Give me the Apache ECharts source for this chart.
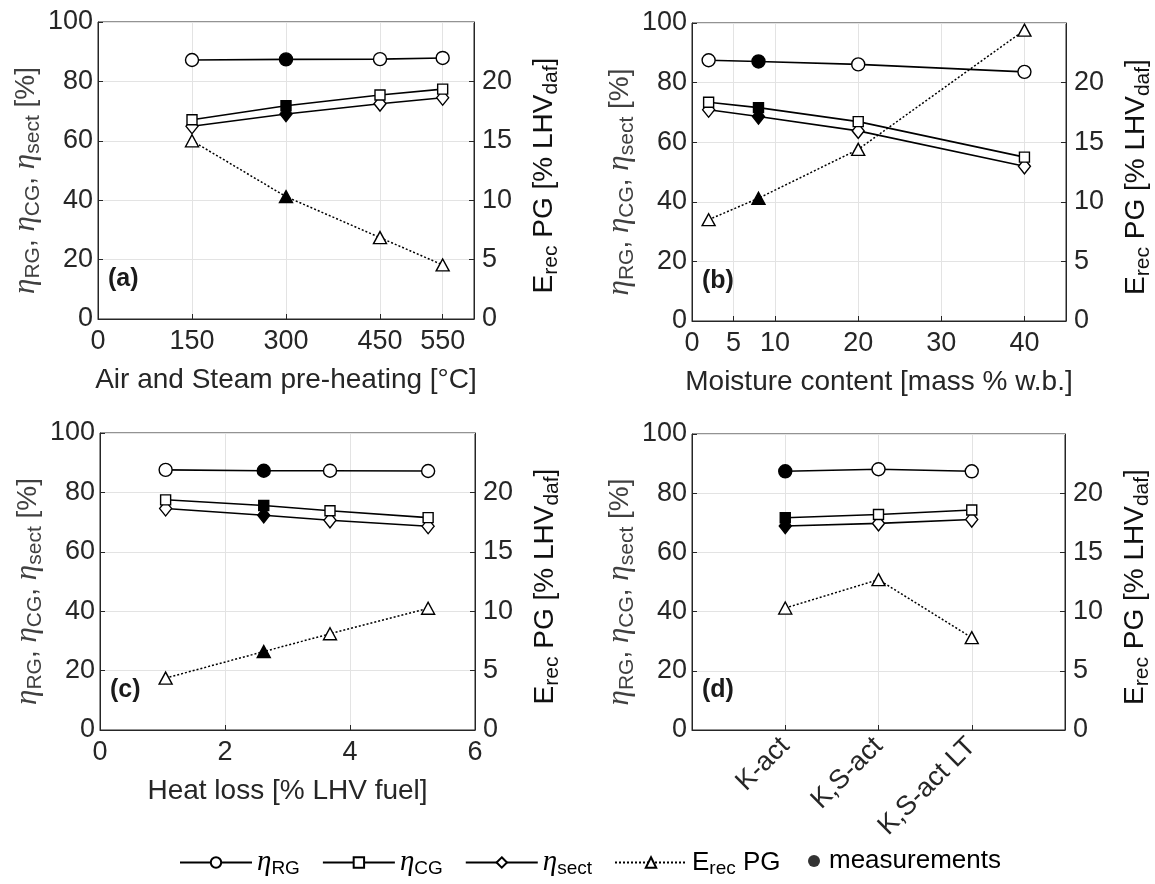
<!DOCTYPE html>
<html>
<head>
<meta charset="utf-8">
<script src="https://cdn.jsdelivr.net/npm/echarts@6/dist/echarts.min.js"></script>
<style>
  html, body { margin: 0; padding: 0; background: #fff; }
  #chart { width: 1155px; height: 884px; }
</style>
</head>
<body>
<div id="chart"></div>
<script>
// (a) Air and Steam pre-heating
const xA = [150, 300, 450, 550];
const rgA = [87.2, 87.4, 87.5, 87.9];
const cgA = [67.1, 71.8, 75.4, 77.4];
const sectA = [64.9, 69.0, 72.5, 74.5];
const eA = [15.0, 10.3, 6.85, 4.55];
const xTicksA = [0, 150, 300, 450, 550];

// (b) Moisture content
const xB = [2, 8, 20, 40];
const rgB = [87.5, 87.1, 86.1, 83.6];
const cgB = [73.4, 71.6, 66.9, 55.0];
const sectB = [70.9, 68.6, 63.8, 51.9];
const eB = [8.5, 10.3, 14.4, 24.4];
const xTicksB = [0, 5, 10, 20, 30, 40];

// (c) Heat loss
const xC = [1.05, 2.62, 3.68, 5.25];
const rgC = [87.6, 87.3, 87.3, 87.2];
const cgC = [77.5, 75.6, 73.8, 71.5];
const sectC = [74.6, 72.3, 70.6, 68.6];
const eC = [4.37, 6.6, 8.1, 10.25];

// (d) catalyst cases
const catD = ['K-act', 'K,S-act', 'K,S-act LT'];
const rgD = [87.4, 88.1, 87.4];
const cgD = [71.7, 72.8, 74.3];
const sectD = [68.9, 69.8, 71.1];
const eD = [10.3, 12.7, 7.8];

// index of the measured (filled) point per panel, eta series / E_rec series
const measEta = [1, 1, 1, 0];
const measE = [1, 1, 1, -1];

const FONT = 'Liberation Sans';
const AX = '#262626';
const FS = 27; // tick label size

const grids = [
  { left: 98, top: 22, width: 376, height: 297 },
  { left: 692, top: 23, width: 376, height: 298 },
  { left: 100, top: 433, width: 375, height: 297 },
  { left: 692, top: 434, width: 373, height: 296 }
];

// rich styles for axis names (eta in serif italic, subscripts smaller and lower)
const richName = {
  e: { fontFamily: 'Liberation Serif', fontStyle: 'italic', fontSize: 31, lineHeight: 36 },
  s: { fontFamily: FONT, fontSize: 21, lineHeight: 18, verticalAlign: 'bottom' },
  n: { fontFamily: FONT, fontSize: 28, lineHeight: 36 }
};
const richLegend = {
  e: { fontFamily: 'Liberation Serif', fontStyle: 'italic', fontSize: 29, lineHeight: 32 },
  s: { fontFamily: FONT, fontSize: 19, lineHeight: 16, verticalAlign: 'bottom' },
  n: { fontFamily: FONT, fontSize: 26, lineHeight: 32 }
};
const etaName = '{e|η}{s|RG}{n|, }{e|η}{s|CG}{n|, }{e|η}{s|sect}{n| [%]}';
const eName = '{n|E}{s|rec}{n| PG [% LHV}{s|daf}{n|]}';

function tickOpt(custom) {
  const t = { show: true, inside: true, length: 5, lineStyle: { color: AX } };
  if (custom) t.customValues = custom;
  return t;
}
function labelOpt(custom, extra) {
  const l = { color: AX, fontFamily: FONT, fontSize: FS, margin: 9 };
  if (custom) l.customValues = custom;
  return Object.assign(l, extra || {});
}

function xAxisBase(i, opt) {
  return Object.assign({
    type: 'value',
    gridIndex: i,
    nameLocation: 'middle',
    nameGap: 47,
    nameTextStyle: { fontFamily: FONT, fontSize: 28, color: AX },
    axisLine: { show: true, onZero: false, lineStyle: { color: AX, width: 1 } },
    axisTick: tickOpt(),
    splitLine: { show: true, lineStyle: { color: '#e3e3e3', width: 1 } },
    axisLabel: labelOpt()
  }, opt);
}

const catPos = catD.map((c, k) => k + 1);

const xAxes = [
  xAxisBase(0, {
    min: 0, max: 600, name: 'Air and Steam pre-heating [°C]',
    axisTick: tickOpt(xTicksA), axisLabel: labelOpt(xTicksA)
  }),
  xAxisBase(1, {
    min: 0, max: 45, name: 'Moisture content [mass % w.b.]',
    axisTick: tickOpt(xTicksB), axisLabel: labelOpt(xTicksB)
  }),
  xAxisBase(2, { min: 0, max: 6, interval: 2, name: 'Heat loss [% LHV fuel]' }),
  xAxisBase(3, {
    min: 0, max: catD.length + 1,
    axisTick: tickOpt(catPos),
    axisLabel: labelOpt(catPos, { rotate: 45, margin: 12, formatter: v => catD[v - 1] || '' })
  })
];

const yAxes = [];
grids.forEach((g, i) => {
  yAxes.push({
    type: 'value', gridIndex: i, position: 'left', min: 0, max: 100, interval: 20,
    name: etaName, nameLocation: 'middle', nameRotate: 90, nameGap: 50,
    nameTextStyle: { color: '#404040', rich: richName, padding: [0, 20, 0, 0] },
    axisLine: { show: true, lineStyle: { color: AX, width: 1 } },
    axisTick: tickOpt(),
    splitLine: { show: true, lineStyle: { color: '#e3e3e3', width: 1 } },
    axisLabel: labelOpt(null, { margin: 5 })
  });
  yAxes.push({
    type: 'value', gridIndex: i, position: 'right', min: 0, max: 25, interval: 5,
    name: eName, nameLocation: 'middle', nameRotate: 90, nameGap: 52,
    nameTextStyle: { color: '#111', rich: richName, padding: [0, 10, 0, 0] },
    axisLine: { show: true, lineStyle: { color: AX, width: 1 } },
    axisTick: tickOpt(),
    splitLine: { show: false },
    axisLabel: labelOpt(null, { margin: 8, showMaxLabel: false })
  });
});

function lineSeries(name, g, xs, ys, meas, symbol, size, right) {
  return {
    name: name, type: 'line',
    xAxisIndex: g, yAxisIndex: right ? 2 * g + 1 : 2 * g,
    symbol: symbol, symbolSize: size,
    lineStyle: { color: '#000', width: right ? 1.5 : 1.6, type: right ? [2, 2] : 'solid' },
    itemStyle: { color: '#fff', borderColor: '#000', borderWidth: 1.4 },
    emphasis: { disabled: true },
    data: xs.map((x, k) => k === meas
      ? { value: [x, ys[k]], itemStyle: { color: '#000' } }
      : [x, ys[k]])
  };
}

const panels = [
  [xA, rgA, cgA, sectA, eA],
  [xB, rgB, cgB, sectB, eB],
  [xC, rgC, cgC, sectC, eC],
  [catPos, rgD, cgD, sectD, eD]
];

const series = [];
panels.forEach((p, g) => {
  series.push(lineSeries('E', g, p[0], p[4], measE[g], 'triangle', [13, 12], true));
  series.push(lineSeries('sect', g, p[0], p[3], measEta[g], 'diamond', [12, 15], false));
  series.push(lineSeries('CG', g, p[0], p[2], measEta[g], 'rect', 10, false));
  series.push(lineSeries('RG', g, p[0], p[1], measEta[g], 'circle', 13, false));
});
series.push({
  name: 'measurements', type: 'scatter', xAxisIndex: 0, yAxisIndex: 0,
  symbol: 'circle', symbolSize: 10, itemStyle: { color: '#000' }, data: []
});

const legendText = {
  RG: '{e|η}{s|RG}',
  CG: '{e|η}{s|CG}',
  sect: '{e|η}{s|sect}',
  E: '{n|E}{s|rec}{n| PG}'
};

const chart = echarts.init(document.getElementById('chart'));
chart.setOption({
  animation: false,
  backgroundColor: '#fff',
  title: ['(a)', '(b)', '(c)', '(d)'].map((t, i) => ({
    text: t, padding: 0,
    left: grids[i].left + 10,
    top: grids[i].top + grids[i].height - 52,
    textStyle: { fontFamily: FONT, fontSize: 25, fontWeight: 'bold', color: '#1a1a1a' }
  })),
  grid: grids.map(g => Object.assign({ show: true, borderColor: AX, borderWidth: 1 }, g)),
  xAxis: xAxes,
  yAxis: yAxes,
  legend: [
    {
      data: ['RG', 'CG', 'sect', 'E'], left: 174, top: 843,
      itemWidth: 72, itemHeight: 13, itemGap: 22, selectedMode: false,
      formatter: n => legendText[n],
      textStyle: { color: '#000', rich: richLegend }
    },
    {
      data: ['measurements'], left: 803, top: 843,
      itemWidth: 12, itemHeight: 12, selectedMode: false,
      textStyle: { color: '#000', fontFamily: FONT, fontSize: 26, padding: [4, 0, 0, 4] }
    }
  ],
  series: series
});
</script>
</body>
</html>
